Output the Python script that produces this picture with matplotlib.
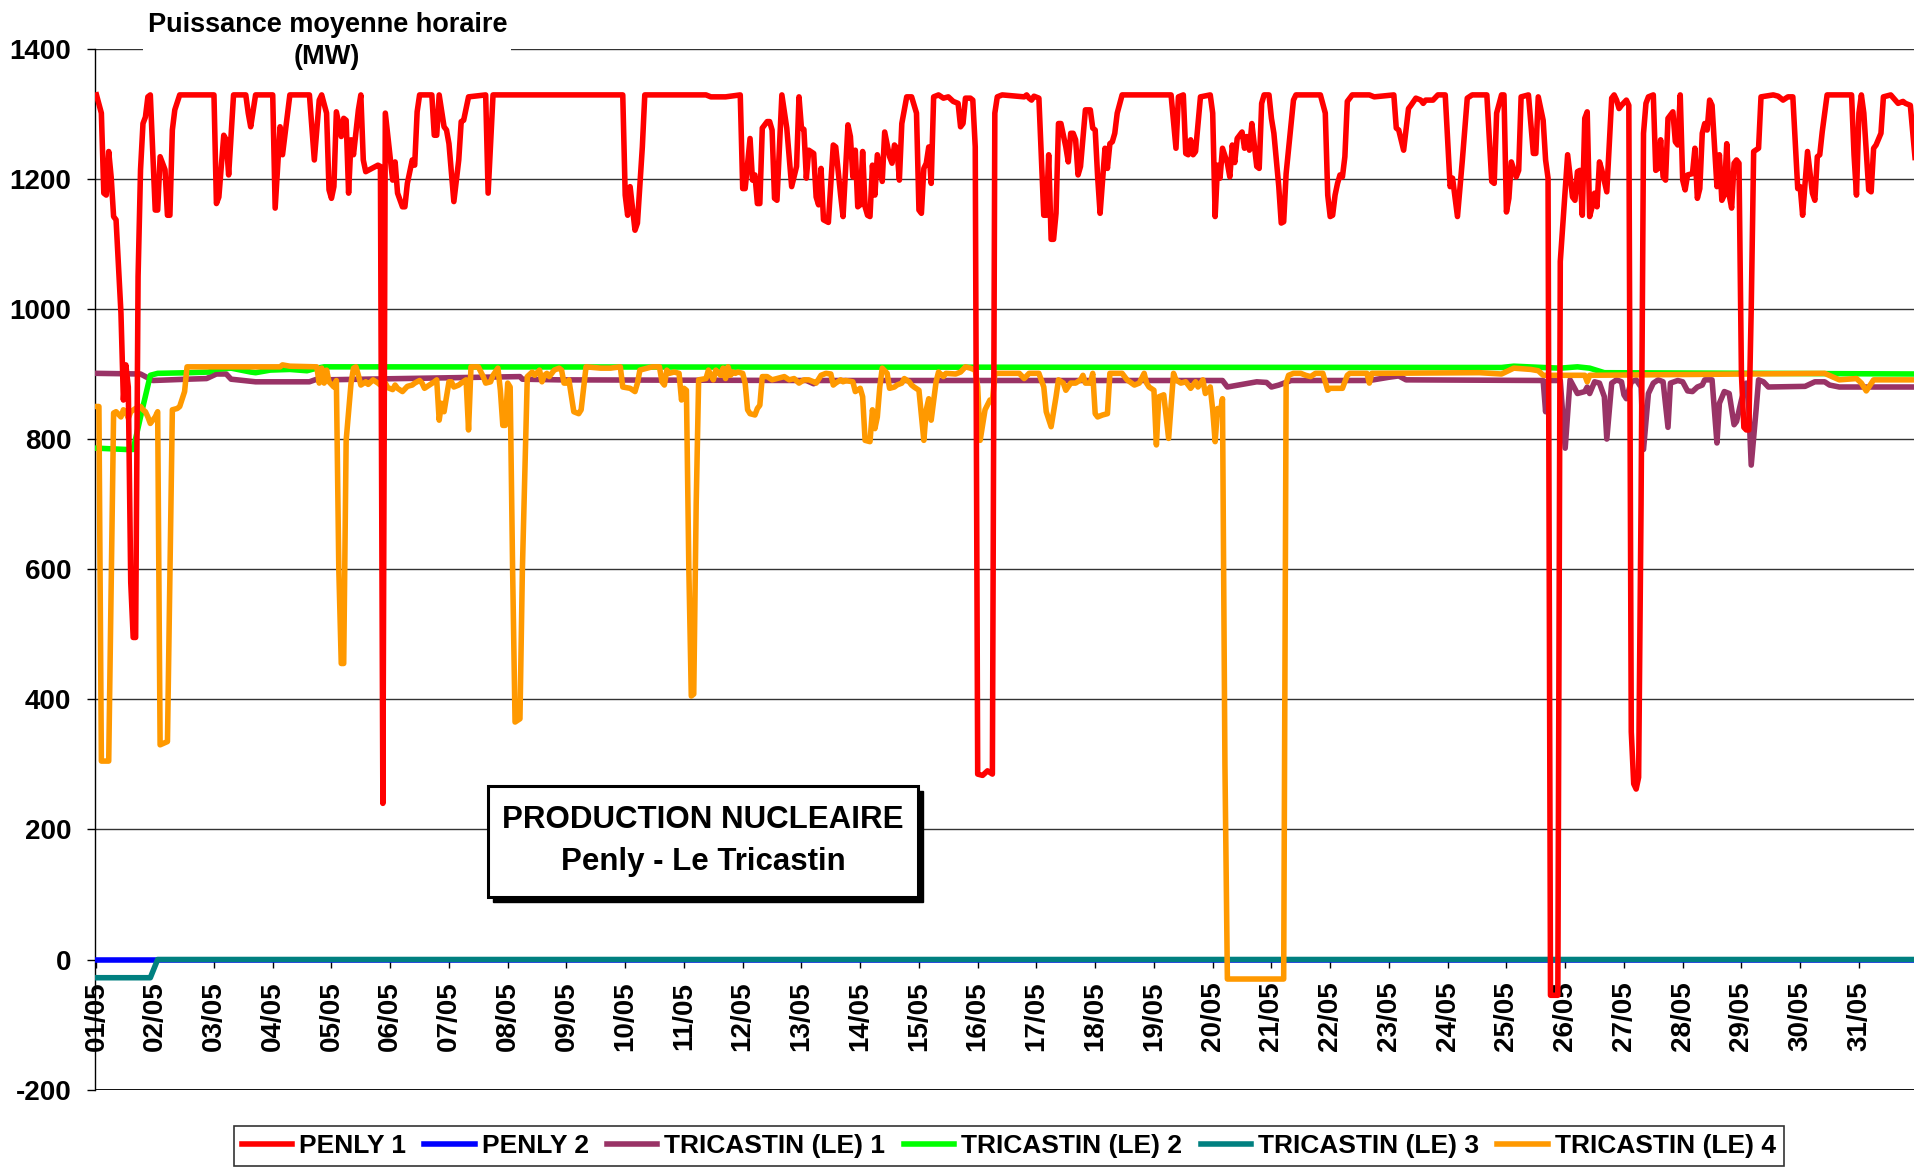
import matplotlib.pyplot as plt
from matplotlib.patches import Rectangle

plt.rcParams['font.family'] = ['Liberation Sans', 'DejaVu Sans']
plt.rcParams['font.weight'] = 'bold'
plt.rcParams['axes.unicode_minus'] = False

# heures depuis le 01/05 00h  ->  puissance moyenne horaire (MW)
penly1_h = [0, 2, 3, 4, 5, 6, 7, 8, 10, 11, 12, 13, 14, 15, 16, 17, 18, 19, 20, 21, 22, 24, 25, 26, 28, 29, 30, 31, 32, 34,
            48, 49, 50, 52, 53, 54, 56, 61, 62, 63, 65, 72, 73, 75, 76, 79, 87, 89, 91, 92, 94, 95, 96, 97, 98, 100,
            101, 102, 103, 104, 105, 107, 108, 109, 110, 115, 116, 117, 118, 121, 122, 123, 125, 126, 127, 129, 130,
            131, 132, 137, 138, 139, 140, 142, 143, 144, 146, 148, 149, 150, 152, 159, 160, 162, 215, 216, 217, 218,
            220, 221, 223, 224, 249, 251, 257, 263, 264, 265, 267, 268, 269, 270, 271, 272, 274, 275, 276, 277, 278,
            280, 282, 284, 286, 287, 288, 289, 290, 291, 293, 294, 295, 296, 297, 299, 301, 302, 304, 305, 307, 308,
            309, 310, 311, 312, 313, 314, 315, 316, 317, 318, 319, 321, 322, 324, 325, 326, 327, 328, 329, 331, 333,
            335, 336, 337, 338, 339, 340, 341, 342, 344, 346, 348, 350, 352, 353, 354, 355, 357, 358, 359, 360, 362,
            364, 366, 367, 368, 370, 379, 380, 381, 382, 383, 385, 387, 388, 389, 390, 391, 392, 393, 394, 396, 397,
            398, 399, 400, 401, 402, 404, 406, 407, 408, 409, 410, 412, 413, 414, 415, 416, 417, 419, 439, 441, 442,
            444, 445, 446, 447, 448, 449, 451, 455, 456, 457, 458, 459, 460, 462, 463, 464, 465, 466, 468, 469, 470,
            471, 472, 474, 475, 476, 477, 479, 480, 481, 483, 484, 485, 486, 489, 490, 500, 502, 503, 504, 505, 506,
            507, 508, 509, 510, 511, 513, 520, 522, 530, 531, 532, 534, 536, 537, 539, 541, 542, 543, 546, 548, 551,
            553, 554, 556, 558, 560, 562, 568, 570, 571, 572, 574, 575, 576, 577, 578, 580, 581, 582, 585, 587, 588,
            589, 591, 592, 593, 594, 597, 598, 600, 601, 603, 604, 605, 606, 607, 608, 609, 610, 611, 612, 613, 614,
            615, 617, 619, 620, 621, 622, 623, 625, 626, 627, 628, 629, 630, 631, 632, 633, 634, 636, 637, 638, 639,
            640, 641, 642, 644, 645, 646, 647, 648, 649, 650, 652, 653, 654, 655, 656, 657, 658, 659, 660, 662, 663,
            664, 665, 666, 667, 668, 669, 670, 671, 672, 673, 674, 675, 676, 677, 679, 680, 685, 687, 689, 691, 693,
            695, 696, 697, 699, 701, 702, 703, 704, 705, 707, 717, 718, 719, 720, 721, 722, 724, 725, 726, 727, 729,
            730, 733, 736, 738, 739, 741, 743]
penly1_mw = [1329, 1301, 1178, 1175, 1242, 1203, 1142, 1137, 994, 860, 914, 880, 580, 495, 495, 1050, 1214, 1285, 1295,
             1326, 1329, 1152, 1152, 1234, 1214, 1144, 1144, 1275, 1306, 1329,
             1329, 1162, 1172, 1267, 1260, 1206, 1329, 1329, 1301, 1280, 1329, 1329, 1155, 1280, 1237, 1329, 1329,
             1229, 1321, 1329, 1301, 1183, 1170, 1188, 1303, 1265,
             1293, 1290, 1178, 1260, 1237, 1306, 1329, 1229, 1211, 1221, 1219, 240, 1301, 1198, 1226, 1178, 1157,
             1157, 1193, 1229, 1221,
             1303, 1329, 1329, 1267, 1267, 1329, 1280, 1275, 1254, 1165, 1229, 1288, 1290, 1326, 1329, 1178, 1329,
             1329, 1175, 1144, 1188,
             1121, 1132, 1249, 1329, 1329, 1326, 1326, 1329, 1185, 1185, 1262, 1198, 1206, 1162, 1162, 1278, 1288,
             1288, 1275, 1170, 1167,
             1329, 1278, 1188, 1219, 1326, 1278, 1276, 1201, 1244, 1239, 1172, 1160, 1216, 1137, 1133, 1252, 1249,
             1175, 1142, 1283, 1265,
             1203, 1244, 1157, 1160, 1242, 1157, 1144, 1142, 1221, 1175, 1237, 1196, 1272, 1234, 1224, 1252, 1247,
             1198, 1285, 1326, 1326,
             1301, 1152, 1147, 1216, 1224, 1249, 1193, 1326, 1329, 1324, 1326, 1319, 1316, 1280, 1285, 1324, 1324,
             1321, 1249, 285, 283,
             290, 285, 1301, 1326, 1329, 1326, 1329, 1324, 1321, 1327, 1324, 1144, 1144, 1237, 1107, 1107, 1147,
             1285, 1285, 1249, 1226,
             1270, 1270, 1260, 1206, 1219, 1306, 1306, 1278, 1275, 1203, 1147, 1247, 1216, 1254, 1257, 1270, 1301,
             1329, 1329, 1247, 1326,
             1329, 1239, 1237, 1260, 1237, 1242, 1326, 1329, 1301, 1142, 1221, 1201, 1247, 1224, 1203, 1252, 1225,
             1262, 1272, 1247, 1265,
             1244, 1285, 1219, 1216, 1316, 1329, 1329, 1293, 1270, 1188, 1132, 1134, 1208, 1321, 1329, 1329, 1301,
             1175, 1142, 1144, 1175,
             1193, 1206, 1203, 1234, 1319, 1329, 1329, 1326, 1329, 1278, 1275, 1244, 1308, 1313, 1324, 1321, 1316,
             1321, 1321, 1329, 1329,
             1188, 1201, 1142, 1229, 1324, 1329, 1329, 1196, 1193, 1301, 1329, 1329, 1149, 1170, 1226, 1203, 1213,
             1326, 1329, 1239, 1239,
             1326, 1290, 1229, 1201, -55, -55, 1073, 1183, 1237, 1172, 1167, 1211, 1213, 1144, 1293, 1303, 1142,
             1157, 1178, 1157, 1226,
             1213, 1180, 1324, 1329, 1321, 1308, 1313, 1321, 1313, 350, 270, 262, 280, 700, 1270, 1316, 1326, 1329,
             1213, 1216, 1260,
             1203, 1198, 1293, 1303, 1257, 1252, 1329, 1198, 1183, 1206, 1208, 1247, 1170, 1185, 1270, 1285, 1275,
             1321, 1313, 1188, 1237,
             1167, 1175, 1254, 1175, 1155, 1224, 1229, 1224, 900, 818, 814, 814, 1000, 1242, 1247, 1326, 1329, 1327,
             1321, 1326, 1326,
             1185, 1188, 1144, 1242, 1178, 1167, 1234, 1237, 1272, 1329, 1329, 1237, 1175, 1301, 1329, 1301, 1183,
             1180, 1247, 1252, 1270,
             1326, 1329, 1316, 1319, 1316, 1313, 1229]

penly2_h = [0, 743]
penly2_mw = [0, 0]

tric1_h = [0, 18, 23, 37, 45, 49, 53, 55, 65, 87, 90, 93, 173, 174, 189, 290, 293, 295, 460, 462, 468, 474, 478, 480,
           483, 488, 520, 528, 532, 535, 591, 592, 593, 598, 600, 602, 605, 608, 609, 610, 612, 614, 616, 617, 619,
           621, 623, 624, 625, 627, 629, 631, 632, 634, 636, 638, 640, 642, 643, 646, 648, 650, 652, 654, 656, 657,
           660, 662, 663, 665, 667, 669, 670, 672, 674, 675, 676, 678, 679, 681, 683, 698, 702, 706, 708, 712, 743]
tric1_mw = [901, 900, 890, 892, 893, 900, 900, 892, 888, 888, 892, 891, 896, 892, 891, 890, 885, 890, 890, 880, 884,
            888, 887, 880, 883, 890, 890, 895, 897, 891, 890, 842, 890, 890, 786, 891, 870, 873, 880, 870, 888, 886,
            865, 800, 886, 891, 888, 868, 862, 888, 891, 880, 784, 870, 886, 891, 888, 818, 886, 890, 888, 874, 873,
            880, 883, 891, 891, 794, 855, 873, 870, 822, 827, 860, 886, 850, 760, 845, 891, 888, 880, 881, 888, 888,
            883, 880, 880]

tric2_h = [0, 12, 15, 18, 22, 25, 38, 46, 48, 55, 63, 65, 71, 79, 86, 90, 93, 574, 579, 591, 598, 605, 610, 616, 743]
tric2_mw = [786, 784, 784, 834, 898, 901, 902, 903, 907, 909, 903, 902, 906, 907, 905, 909, 911, 910, 912, 910, 909,
            911, 909, 902, 900]

tric3_h = [0, 22, 25, 743]
tric3_mw = [-28, -28, 0, 0]

tric4_h = [0, 1, 2, 5, 7, 8, 10, 11, 12, 13, 14, 16, 18, 19, 20, 21, 22, 24, 25, 26, 29, 31, 33, 34, 36, 37, 75, 76,
           79, 90, 91, 92, 93, 94, 95, 97, 98, 99, 100, 101, 102, 104, 105, 106, 107, 108, 110, 111, 113, 115, 117,
           118, 119, 121, 122, 123, 125, 127, 129, 130, 132, 133, 134, 136, 138, 139, 140, 141, 142, 144, 145, 146,
           148, 149, 151, 152, 153, 156, 158, 159, 161, 162, 164, 165, 166, 167, 168, 169, 170, 171, 173, 174, 176,
           178, 179, 181, 182, 183, 184, 185, 187, 189, 190, 191, 192, 193, 195, 197, 198, 200, 206, 210, 214, 215,
           218, 220, 221, 222, 225, 227, 230, 231, 232, 233, 234, 236, 238, 239, 240, 241, 242, 243, 244, 245, 246,
           249, 250, 251, 252, 253, 255, 256, 257, 258, 259, 260, 261, 262, 264, 265, 266, 267, 269, 270, 271, 272,
           274, 276, 278, 281, 283, 285, 287, 289, 291, 293, 294, 296, 298, 300, 301, 302, 304, 305, 306, 309, 310,
           312, 313, 314, 316, 317, 318, 319, 320, 321, 323, 324, 326, 327, 329, 330, 332, 333, 334, 336, 338, 339,
           340, 341, 343, 344, 346, 347, 351, 353, 355, 357, 359, 360, 361, 363, 365, 366, 367, 370, 377, 379, 381,
           385, 387, 388, 390, 392, 393, 395, 396, 398, 400, 402, 403, 404, 406, 407, 408, 409, 411, 413, 414, 419,
           421, 424, 426, 428, 429, 430, 432, 433, 434, 436, 438, 440, 441, 443, 445, 447, 449, 450, 452, 453, 455,
           456, 457, 458, 459, 460, 461, 462, 485, 486, 487, 489, 492, 494, 496, 498, 501, 503, 504, 507, 509, 511,
           512, 519, 520, 521, 565, 574, 579, 586, 589, 591, 608, 609, 610, 706, 712, 719, 721, 723, 726, 743]
tric4_mw = [850, 850, 305, 305, 840, 842, 834, 845, 842, 832, 842, 847, 850, 845, 842, 834, 824, 834, 842, 330, 335,
            845, 847, 850, 873, 911, 911, 914,
            912, 911, 886, 909, 886, 906, 888, 880, 890, 600, 455, 455, 798, 886, 909, 911, 898, 883, 888, 884, 891,
            886, 880,
            886, 879, 876, 883, 878, 873, 881, 883, 886, 890, 886, 878, 883, 888, 891, 829, 855, 842, 888, 888, 880,
            883, 886, 891, 814, 911, 911, 896, 886, 888, 898, 909, 875, 821, 821, 886, 880, 600, 365, 370, 600, 896,
            903, 898, 906, 888, 898, 901, 896, 906, 909, 906, 886, 886, 891, 842, 839, 845, 911, 909, 909, 911, 880,
            878, 873, 886, 906, 909, 911, 911, 888, 883, 906, 901, 903, 901, 860, 878, 875, 600, 405, 408, 700, 891,
            893, 906, 898, 891, 906, 898, 909, 893, 911, 898, 903, 901, 903, 901, 886, 845, 839, 837, 847, 852, 896,
            896, 891, 893, 896, 891, 893, 886, 891, 891, 888, 886, 898, 901, 900, 883, 886, 891, 888, 890, 888, 873,
            878, 865, 798, 796, 845, 816, 834, 880, 909, 901, 878, 880, 883, 886, 893, 888, 883, 880, 875, 798, 845,
            862, 829, 888, 903, 896, 901, 900, 903, 911, 909, 906, 880, 798, 845, 860, 857, 901, 901, 901, 893, 901,
            901, 880, 842, 819, 865, 891, 886, 875, 886, 886, 891, 898, 886, 886, 901, 839, 834, 837, 839, 901, 901,
            891, 883, 886, 901, 886, 880, 875, 791, 865, 868, 801, 901, 891, 886, 888, 878, 888, 880, 891, 870, 880,
            845, 796, 847, 839, 862, 300, -30, -30, 886, 898, 901, 901, 898, 896, 901, 901, 875, 878, 878, 878, 898,
            901, 901, 886, 901, 902, 900, 909, 907, 905, 898, 898, 888, 898, 901, 891, 893, 886, 874, 891, 891]

jours = [0, 24, 48, 72, 96, 120, 144, 168, 192, 216, 240, 264, 288, 312, 336, 360, 384, 408, 432, 456, 480, 504,
         528, 552, 576, 600, 624, 648, 672, 696, 720]
jours_lib = ['01/05', '02/05', '03/05', '04/05', '05/05', '06/05', '07/05', '08/05', '09/05', '10/05', '11/05',
             '12/05', '13/05', '14/05', '15/05', '16/05', '17/05', '18/05', '19/05', '20/05', '21/05', '22/05',
             '23/05', '24/05', '25/05', '26/05', '27/05', '28/05', '29/05', '30/05', '31/05']

fig = plt.figure(figsize=(19.14, 11.71), dpi=100)
ax = fig.add_axes([95 / 1914, 0.0695, 1 - 95 / 1914, 0.8889])

series = [
    ('PENLY 1', penly1_h, penly1_mw, '#FF0000', 8),
    ('PENLY 2', penly2_h, penly2_mw, '#0000FF', 3),
    ('TRICASTIN (LE) 1', tric1_h, tric1_mw, '#993366', 5),
    ('TRICASTIN (LE) 2', tric2_h, tric2_mw, '#00FF00', 6),
    ('TRICASTIN (LE) 3', tric3_h, tric3_mw, '#008080', 4),
    ('TRICASTIN (LE) 4', tric4_h, tric4_mw, '#FF9900', 7),
]
for nom, h, mw, coul, z in series:
    ax.plot(h, mw, color=coul, lw=4.0, label=nom, zorder=z)

ax.set_xlim(-0.6, 742.5)
ax.set_ylim(-200, 1400)
ax.set_yticks(range(-200, 1401, 200))
ax.grid(axis='y', color='#333333', lw=1)
ax.set_axisbelow(True)
ax.axhline(-200, color='black', lw=1.3, zorder=2)

ax.spines['top'].set_visible(False)
ax.spines['right'].set_visible(False)
ax.spines['bottom'].set_position(('data', 0))
ax.spines['left'].set_linewidth(1)

ax.set_xticks(jours)
ax.set_xticklabels(jours_lib, rotation=90, fontsize=20, fontweight='bold')
ax.tick_params(axis='x', direction='out', length=6, width=1, pad=10)
ax.tick_params(axis='y', direction='out', length=6, width=1, pad=11, labelsize=20)

fig.text(0.171, 0.965, 'Puissance moyenne horaire\n(MW)', ha='center', va='center', fontsize=19.5,
         linespacing=1.3, bbox=dict(facecolor='white', edgecolor='none', pad=3))

# cadre titre avec ombre
fig.add_artist(Rectangle((0.2576, 0.2297), 0.2247, 0.0948, transform=fig.transFigure,
                         facecolor='black', edgecolor='black'))
fig.add_artist(Rectangle((0.255, 0.234), 0.2247, 0.0948, transform=fig.transFigure,
                         facecolor='white', edgecolor='black', lw=2.2))
fig.text(0.3674, 0.300, 'PRODUCTION NUCLEAIRE', ha='center', va='center', fontsize=22.5)
fig.text(0.3674, 0.264, 'Penly - Le Tricastin', ha='center', va='center', fontsize=22.5)

leg = fig.legend(loc='center', bbox_to_anchor=(0.527, 0.0213), ncol=6, fontsize=19, frameon=True,
                 fancybox=False, edgecolor='black', handlelength=1.9, handletextpad=0.27,
                 columnspacing=0.7, borderpad=0.3, borderaxespad=0)
leg.get_frame().set_linewidth(1.2)

fig.savefig('out.png', dpi=100)
